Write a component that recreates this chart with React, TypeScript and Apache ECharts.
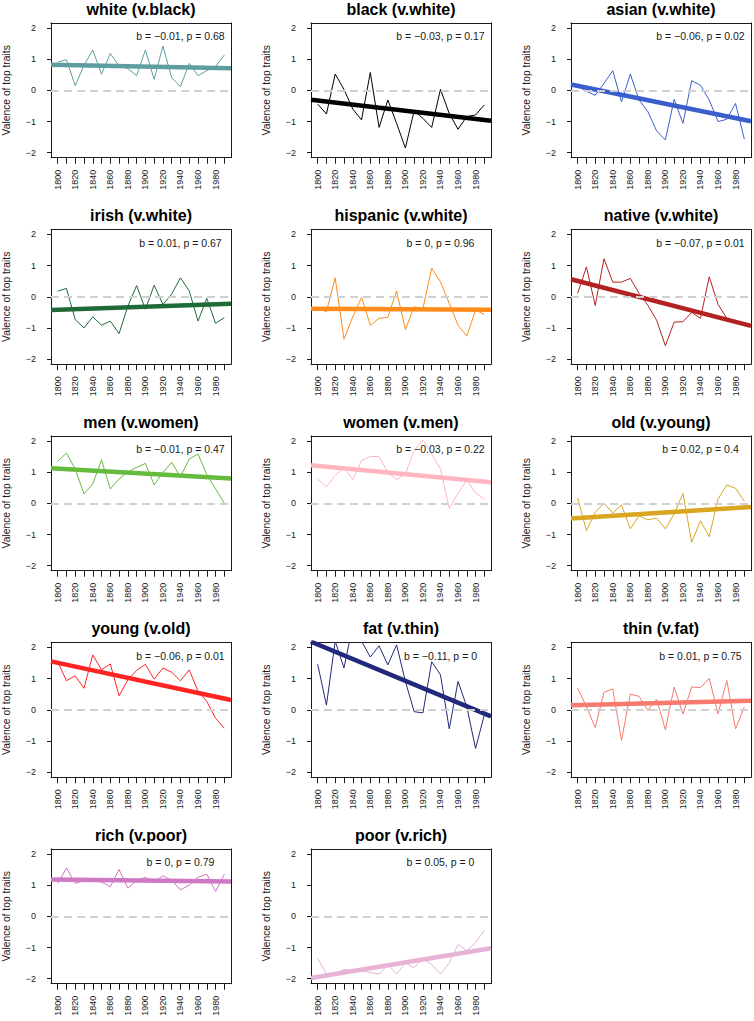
import React, { useEffect, useRef } from "react";
import * as echarts from "echarts";

const years = [1800, 1810, 1820, 1830, 1840, 1850, 1860, 1870, 1880, 1890, 1900, 1910, 1920, 1930, 1940, 1950, 1960, 1970, 1980, 1990];
const labelYears = [1800, 1820, 1840, 1860, 1880, 1900, 1920, 1940, 1960, 1980];
const yTicks = [-2, -1, 0, 1, 2];

const titles = [
  "white (v.black)", "black (v.white)", "asian (v.white)",
  "irish (v.white)", "hispanic (v.white)", "native (v.white)",
  "men (v.women)", "women (v.men)", "old (v.young)",
  "young (v.old)", "fat (v.thin)", "thin (v.fat)",
  "rich (v.poor)", "poor (v.rich)",
];
const annotations = [
  "b = \u22120.01, p = 0.68", "b = \u22120.03, p = 0.17", "b = \u22120.06, p = 0.02",
  "b = 0.01, p = 0.67", "b = 0, p = 0.96", "b = \u22120.07, p = 0.01",
  "b = \u22120.01, p = 0.47", "b = \u22120.03, p = 0.22", "b = 0.02, p = 0.4",
  "b = \u22120.06, p = 0.01", "b = \u22120.11, p = 0", "b = 0.01, p = 0.75",
  "b = 0, p = 0.79", "b = 0.05, p = 0",
];
const colors = [
  "#5F9EA0", "#000000", "#3A5FCD",
  "#1F6B38", "#FF8C1A", "#B22222",
  "#66BB3F", "#FFB6C1", "#DAA520",
  "#FF2424", "#23297A", "#F67A6E",
  "#CF78C4", "#E6B3D6",
];

const white = [0.9, 0.98, 0.15, 0.8, 1.29, 0.52, 1.18, 0.78, 0.7, 0.47, 1.29, 0.35, 1.42, 0.4, 0.12, 0.86, 0.47, 0.63, 0.76, 1.13];
const black = [-0.44, -0.76, 0.52, 0.03, -0.6, -0.95, 0.57, -1.19, -0.31, -1.06, -1.85, -0.65, -0.9, -1.19, 0.03, -0.74, -1.25, -0.84, -0.79, -0.47];
const asian = [0.14, -0.03, -0.16, 0.22, 0.63, -0.37, 0.52, -0.31, -0.68, -1.3, -1.59, -0.29, -1.06, 0.31, 0.16, -0.31, -1.0, -0.93, -0.42, -1.57];
const irish = [0.18, 0.27, -0.73, -1.0, -0.64, -0.91, -0.78, -1.18, -0.3, 0.36, -0.4, 0.37, -0.25, 0.09, 0.61, 0.19, -0.78, -0.05, -0.85, -0.67];
const hispanic = [-0.35, -0.48, 0.61, -1.36, -0.64, -0.02, -0.91, -0.69, -0.66, 0.19, -1.05, -0.32, -0.38, 0.92, 0.48, -0.21, -0.91, -1.26, -0.43, -0.56];
const native = [0.11, 0.96, -0.28, 1.22, 0.47, 0.47, 0.59, 0.11, -0.27, -0.75, -1.57, -0.81, -0.8, -0.5, -0.69, 0.64, -0.24, -0.69, -0.78, -0.88];
const men = [1.35, 1.61, 1.1, 0.3, 0.62, 1.39, 0.46, 0.78, 1.01, 1.15, 1.28, 0.59, 0.99, 1.31, 0.85, 1.42, 1.58, 0.92, 0.46, 0.0];
const women = [0.78, 0.53, 0.89, 1.15, 0.75, 1.37, 1.5, 1.5, 0.99, 0.76, 0.94, 1.69, 2.03, 1.58, 1.1, -0.16, 0.32, 0.75, 0.33, 0.14];
const old = [0.17, -0.88, -0.29, 0.0, -0.31, -0.05, -0.82, -0.4, -0.53, -0.47, -0.82, -0.34, 0.32, -1.25, -0.56, -1.07, 0.14, 0.59, 0.48, 0.06];
const young = [1.55, 0.93, 1.09, 0.69, 1.76, 1.28, 1.47, 0.45, 0.96, 1.26, 1.46, 0.98, 1.34, 1.2, 0.93, 1.28, 0.59, 0.27, -0.27, -0.59];
const fat = [1.46, 0.15, 2.2, 1.34, 2.7, 2.2, 1.69, 2.05, 1.44, 2.08, 0.91, -0.06, -0.1, 1.54, 1.12, -0.61, 0.91, 0.1, -1.24, -0.16];
const thin = [0.69, 0.1, -0.57, 0.56, 0.67, -0.98, 0.5, 0.43, -0.02, 0.34, -0.64, 0.73, -0.14, 0.73, 0.71, 1.01, -0.13, 0.94, -0.61, 0.09];
const rich = [1.05, 1.55, 1.05, 1.15, 1.15, 1.1, 0.95, 1.5, 0.9, 1.15, 1.25, 1.1, 1.3, 1.15, 0.85, 1.0, 1.25, 1.35, 0.8, 1.35];
const poor = [-1.35, -1.85, -1.85, -1.7, -1.75, -1.75, -1.8, -1.85, -1.55, -1.85, -1.5, -1.65, -1.35, -1.55, -1.85, -1.5, -0.9, -1.1, -0.85, -0.45];

const seriesValues = [white, black, asian, irish, hispanic, native, men, women, old, young, fat, thin, rich, poor];

const X_MIN = 1792.4;
const X_MAX = 1997.6;
const Y_MIN = -2.16;
const Y_MAX = 2.16;
const FONT = "'Liberation Sans', Arial, Helvetica, sans-serif";
const INK = "#1a1a1a";

const BOX_LEFT0 = 51;
const COL_STEP = 260;
const BOX_W = 180;
const ZERO_Y0 = 90.3;
const ROW_STEP = 206.5;
const BOX_H = 134.8;

function ols(xs: number[], ys: number[]) {
  const n = xs.length;
  const mx = xs.reduce((a, b) => a + b, 0) / n;
  const my = ys.reduce((a, b) => a + b, 0) / n;
  let sxy = 0, sxx = 0;
  for (let i = 0; i < n; i++) {
    sxy += (xs[i] - mx) * (ys[i] - my);
    sxx += (xs[i] - mx) * (xs[i] - mx);
  }
  const b = sxy / sxx;
  return { a: my - b * mx, b };
}

const fmtY = (v: number) => (v < 0 ? "\u2212" + Math.abs(v) : String(v));

export default function App() {
  const ref = useRef<HTMLDivElement>(null);
  useEffect(() => {
    if (!ref.current) return;
    const chart = echarts.init(ref.current, null, { renderer: "svg" });
    const grids: any[] = [];
    const xAxes: any[] = [];
    const yAxes: any[] = [];
    const series: any[] = [];
    const graphics: any[] = [];
    const boxLine = { show: true, onZero: false, lineStyle: { color: INK, width: 1 } };
    seriesValues.forEach((vals, i) => {
      const r = Math.floor(i / 3);
      const c = i % 3;
      const left = BOX_LEFT0 + COL_STEP * c;
      const zero = ZERO_Y0 + ROW_STEP * r;
      const top = zero - BOX_H / 2;
      grids.push({ left, top, width: BOX_W, height: BOX_H, show: false });
      const xi = xAxes.length;
      xAxes.push({
        type: "value", gridIndex: i, min: X_MIN, max: X_MAX, position: "bottom",
        axisLine: boxLine, splitLine: { show: false },
        axisTick: { show: true, customValues: years, length: 6, lineStyle: { color: INK, width: 1 } },
        axisLabel: { customValues: labelYears, rotate: 90, fontSize: 9, color: INK, margin: 12, fontFamily: FONT, formatter: (v: number) => String(v) },
      });
      xAxes.push({
        type: "value", gridIndex: i, min: X_MIN, max: X_MAX, position: "top",
        axisLine: boxLine, splitLine: { show: false }, axisTick: { show: false }, axisLabel: { show: false },
      });
      const yi = yAxes.length;
      yAxes.push({
        type: "value", gridIndex: i, min: Y_MIN, max: Y_MAX, position: "left",
        axisLine: boxLine, splitLine: { show: false },
        axisTick: { show: true, customValues: yTicks, length: 4, lineStyle: { color: INK, width: 1 } },
        axisLabel: { customValues: yTicks, fontSize: 9, color: INK, margin: 15, fontFamily: FONT, formatter: fmtY },
      });
      yAxes.push({
        type: "value", gridIndex: i, min: Y_MIN, max: Y_MAX, position: "right",
        axisLine: boxLine, splitLine: { show: false }, axisTick: { show: false }, axisLabel: { show: false },
      });
      series.push({
        type: "line", xAxisIndex: xi, yAxisIndex: yi, data: [], z: 1, silent: true,
        markLine: {
          silent: true, symbol: "none", label: { show: false },
          lineStyle: { color: "#d0d0d0", width: 2, type: [8, 5] },
          data: [{ yAxis: 0 }],
        },
      });
      series.push({
        type: "line", xAxisIndex: xi, yAxisIndex: yi, z: 2,
        data: years.map((y, k) => [y, vals[k]]),
        showSymbol: false, symbol: "none",
        lineStyle: { color: colors[i], width: 1 }, clip: true,
      });
      const fit = ols(years, vals);
      series.push({
        type: "line", xAxisIndex: xi, yAxisIndex: yi, z: 3,
        data: [[X_MIN, fit.a + fit.b * X_MIN], [X_MAX, fit.a + fit.b * X_MAX]],
        showSymbol: false, symbol: "none",
        lineStyle: { color: colors[i], width: 4.5 }, clip: true,
      });
      const cx = left + BOX_W / 2;
      graphics.push({
        type: "text", x: cx, y: top - 13.5,
        style: { text: titles[i], fill: "#000", font: `bold 16px ${FONT}`, align: "center", verticalAlign: "middle" },
      });
      graphics.push({
        type: "text", x: left + ((1940 - X_MIN) / (X_MAX - X_MIN)) * BOX_W, y: top + ((Y_MAX - 1.73) / (Y_MAX - Y_MIN)) * BOX_H,
        style: { text: annotations[i], fill: INK, font: `10.5px ${FONT}`, align: "center", verticalAlign: "middle" },
        z: 10,
      });
      graphics.push({
        type: "text", x: 6.5 + COL_STEP * c, y: zero, rotation: Math.PI / 2,
        style: { text: "Valence of top traits", fill: INK, font: `10.3px ${FONT}`, align: "center", verticalAlign: "middle" },
      });
    });
    chart.setOption({
      animation: false,
      backgroundColor: "#ffffff",
      grid: grids,
      xAxis: xAxes,
      yAxis: yAxes,
      series,
      graphic: graphics,
    });
    return () => chart.dispose();
  }, []);
  return <div ref={ref} style={{ position: "absolute", left: 0, top: 0, width: 754, height: 1021 }} />;
}
